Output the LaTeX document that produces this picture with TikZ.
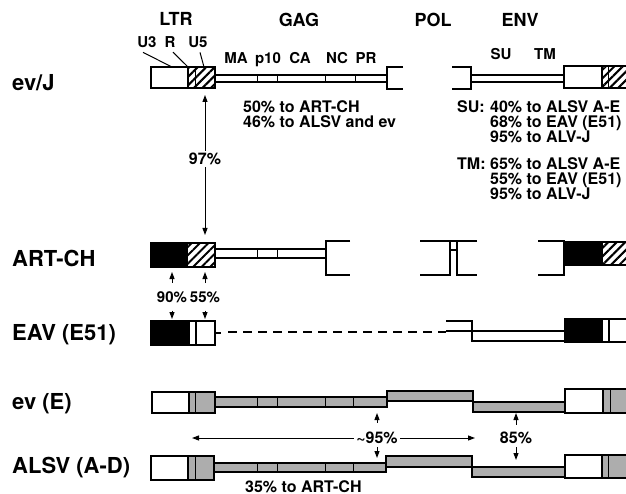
\documentclass[tikz,border=0pt]{standalone}
\usepackage{fontspec}
\setmainfont{TeX Gyre Heros}
\usetikzlibrary{arrows.meta,patterns.meta}

\begin{document}
\begin{tikzpicture}[
    x=1pt, y=-1pt,
    >={Triangle[length=7pt,width=5pt]},
    ltrbox/.style={draw, line width=2pt},
    genebar/.style={draw, line width=1.3pt},
    divline/.style={draw, line width=1pt},
    hatchfill/.style={pattern={Lines[angle=45,distance=6pt,line width=2pt]}},
    dotfill/.style={fill=black!32},
    blkfill/.style={fill=black},
    eavgap/.style={line width=1.8pt, dash pattern=on 9pt off 6pt},
    rowlbl/.style={font=\fontsize{22}{24}\selectfont\bfseries, anchor=base west, inner sep=0pt},
    hdr/.style={font=\fontsize{18}{20}\selectfont\bfseries, anchor=base, inner sep=0pt},
    sublbl/.style={font=\fontsize{15}{16}\selectfont\bfseries, anchor=base, inner sep=0pt},
    note/.style={font=\fontsize{16}{16}\selectfont\bfseries, anchor=base west, inner sep=0pt},
    pct/.style={font=\fontsize{16}{16}\selectfont\bfseries, fill=white, inner sep=2pt},
    dim/.style={->, line width=1pt},
    ddim/.style={<->, line width=1pt}
]
\useasboundingbox (0,0) rectangle (626,494);
\clip (0,0) rectangle (626,494);

% ------------------------
% Headers
% ------------------------
\node[hdr] (ltr) at (176,26) {LTR};
\node[hdr] (gag) at (299,27) {GAG};
\node[hdr] (pol) at (433,27) {POL};
\node[hdr] (env) at (520,27) {ENV};

\node[sublbl] (u3) at (147,48) {U3};
\node[sublbl] (r) at (170,48) {R};
\node[sublbl] (u5) at (198,48) {U5};
\coordinate (u3end) at (172,67);
\coordinate (rend) at (188,67);
\coordinate (u5end) at (204,67);
\draw[divline] ([shift={(-4,4)}]u3.south) -- (u3end);
\draw[divline] ([shift={(3,4)}]r.south) -- (rend);
\draw[divline] ([shift={(2,4)}]u5.south) -- (u5end);

\node[sublbl] (ma) at (236,64) {MA};
\node[sublbl] (p10) at (268,64) {p10};
\node[sublbl] (ca) at (300,64) {CA};
\node[sublbl] (nc) at (337,64) {NC};
\node[sublbl] (pr) at (366,64) {PR};
\node[sublbl] (su) at (501,60) {SU};
\node[sublbl] (tm) at (545,60) {TM};

% ------------------------
% Row labels
% ------------------------
\node[rowlbl] (evj) at (12,91) {ev/J};
\node[rowlbl] (artch) at (12,266) {ART-CH};
\node[rowlbl] (eav) at (12,340) {EAV (E51)};
\node[rowlbl] (eve) at (12,409) {ev (E)};
\node[rowlbl] (alsv) at (12,473) {ALSV (A-D)};

% ------------------------
% ev/J
% ------------------------
\fill[hatchfill] (188,67) rectangle (215,88);
\draw[divline] (195,67) -- (195,88);
\draw[ltrbox] (151,67) rectangle (215,88);
\draw[ltrbox] (188,67) -- (188,88);
\draw[genebar] (215,75) rectangle (387,82);
\draw[divline] (257,75) -- (257,82) (277,75) -- (277,82) (325,75) -- (325,82) (355,75) -- (355,82);
\draw[genebar] (403,67) -- (387,67) -- (387,89) -- (403,89);
\draw[genebar] (452,67) -- (471,67) -- (471,89) -- (452,89);
\draw[genebar] (471,75) rectangle (564,82);
\fill[hatchfill] (602,66) rectangle (640,88);
\draw[divline] (608,66) -- (608,88);
\draw[ltrbox] (564,66) rectangle (640,88);
\draw[ltrbox] (602,66) -- (602,88);

\node[note] (gagid1) at (243,113) {50\% to ART-CH};
\node[note] (gagid2) at (243,128) {46\% to ALSV and ev};
\node[note] (suhd) at (457,113) {SU:};
\node[note] (su1) at (490,113) {40\% to ALSV A-E};
\node[note] (su2) at (490,128) {68\% to EAV (E51)};
\node[note] (su3) at (490,143) {95\% to ALV-J};
\node[note] (tmhd) at (457,170) {TM:};
\node[note] (tm1) at (490,170) {65\% to ALSV A-E};
\node[note] (tm2) at (490,185) {55\% to EAV (E51)};
\node[note] (tm3) at (490,200) {95\% to ALV-J};

% ------------------------
% ART-CH
% ------------------------
\fill[blkfill] (151,243) rectangle (188,267);
\fill[hatchfill] (188,243) rectangle (215,267);
\draw[ltrbox] (151,243) rectangle (215,267);
\draw[genebar] (215,249) rectangle (326,258);
\draw[divline] (257,249) -- (257,258) (277,249) -- (277,258);
\draw[genebar] (350,241) -- (326,241) -- (326,275) -- (350,275);
\draw[genebar] (420,241) -- (450,241) -- (450,275) -- (420,275);
\draw[genebar] (450,241) rectangle (457,250);
\draw[genebar] (477,241) -- (457,241) -- (457,275) -- (477,275);
\draw[genebar] (538,241) -- (564,241) -- (564,275) -- (538,275);
\fill[blkfill] (564,242) rectangle (603,265);
\fill[hatchfill] (603,242) rectangle (640,265);
\draw[ltrbox] (564,242) rectangle (640,265);

% ------------------------
% EAV (E51)
% ------------------------
\fill[blkfill] (151,321) rectangle (190,345);
\draw[ltrbox] (151,321) rectangle (215,345);
\draw[ltrbox] (196,321) -- (196,345);
\draw[genebar] (215,333) -- (221,333);
\draw[eavgap] (228,332) -- (446,332);
\draw[genebar] (446,321) -- (472,321) -- (472,341) -- (565,341);
\draw[genebar] (446,331) -- (565,331);
\fill[blkfill] (565,319) rectangle (603,342);
\draw[ltrbox] (565,319) rectangle (640,342);
\draw[ltrbox] (609,319) -- (609,342);

% ------------------------
% ev (E)
% ------------------------
\fill[dotfill] (189,392) rectangle (215,413);
\draw[ltrbox] (152,392) rectangle (215,413);
\draw[ltrbox] (189,392) -- (189,413);
\draw[divline] (195,392) -- (195,413);
\draw[genebar, dotfill] (215,397) rectangle (387,407);
\draw[divline] (257,397) -- (257,407) (277,397) -- (277,407) (325,397) -- (325,407) (353,397) -- (353,407);
\draw[genebar, dotfill] (387,391) rectangle (473,401);
\draw[genebar, dotfill] (473,402) rectangle (565,412);
\fill[dotfill] (603,389) rectangle (640,413);
\draw[ltrbox] (565,389) rectangle (640,413);
\draw[ltrbox] (603,389) -- (603,413);
\draw[divline] (610,389) -- (610,413);

% ------------------------
% ALSV (A-D)
% ------------------------
\fill[dotfill] (188,456) rectangle (214,480);
\draw[ltrbox] (151,456) rectangle (214,480);
\draw[ltrbox] (188,456) -- (188,480);
\draw[divline] (195,456) -- (195,480);
\draw[genebar, dotfill] (214,463) rectangle (386,472);
\draw[divline] (257,463) -- (257,472) (277,463) -- (277,472) (325,463) -- (325,472) (353,463) -- (353,472);
\draw[genebar, dotfill] (386,456) rectangle (472,467);
\draw[genebar, dotfill] (472,467) rectangle (565,477);
\fill[dotfill] (602,455) rectangle (640,478);
\draw[ltrbox] (565,455) rectangle (640,478);
\draw[ltrbox] (602,455) -- (602,478);
\draw[divline] (608,455) -- (608,478);

\node[note] (alsvid) at (245,492) {35\% to ART-CH};

% ------------------------
% Identity arrows
% ------------------------
\coordinate (evjltr) at (205,95);
\coordinate (artltr) at (205,235);
\draw[ddim] (evjltr) -- (artltr);
\node[pct] (p97) at (205,159) {97\%};

\node[sublbl] (p90) at (172,302) {90\%};
\node[sublbl] (p55) at (205,302) {55\%};
\coordinate (art90) at (172,272);
\coordinate (eav90) at (172,319);
\coordinate (art55) at (205,272);
\coordinate (eav55) at (205,319);
\draw[dim] ([yshift=8pt]p90.north) -- (art90);
\draw[dim] ([yshift=-8pt]p90.south) -- (eav90);
\draw[dim] ([yshift=8pt]p55.north) -- (art55);
\draw[dim] ([yshift=-8pt]p55.south) -- (eav55);

\coordinate (lft95) at (192,438);
\coordinate (rgt95) at (475,438);
\draw[ddim] (lft95) -- (rgt95);
\node[pct] (p95) at (377,438) {\textasciitilde 95\%};
\coordinate (eve95) at (377,413);
\coordinate (alsv95) at (377,458);
\draw[dim] ([yshift=7pt]p95.north) -- (eve95);
\draw[dim] ([yshift=-1pt]p95.south) -- (alsv95);

\node[pct] (p85) at (516,438) {85\%};
\coordinate (eve85) at (516,413);
\coordinate (alsv85) at (516,460);
\draw[dim] ([yshift=5pt]p85.north) -- (eve85);
\draw[dim] ([yshift=-1pt]p85.south) -- (alsv85);

\end{tikzpicture}
\end{document}
